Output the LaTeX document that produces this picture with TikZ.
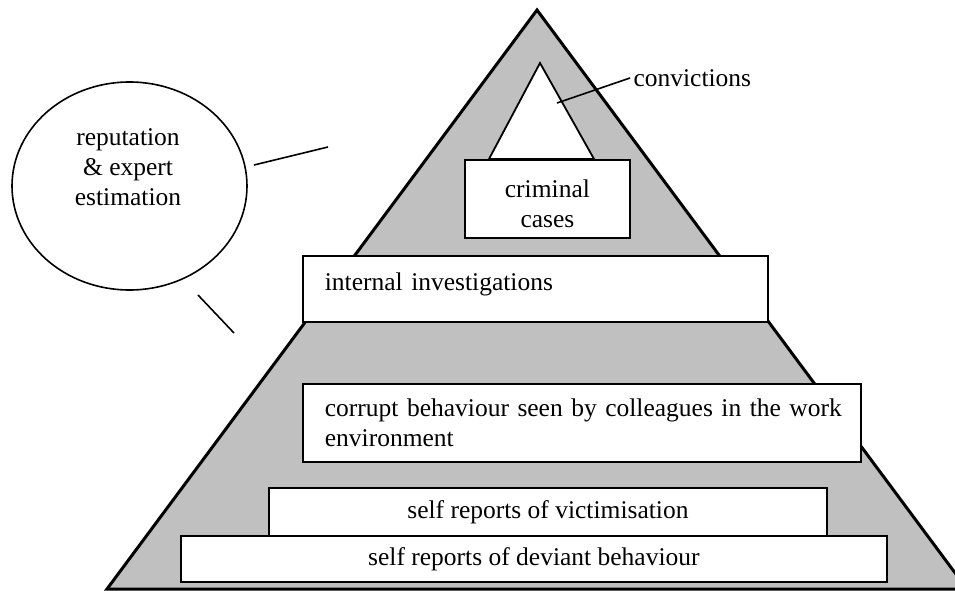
\documentclass[tikz,border=0pt]{standalone}
\usepackage{fontspec}
\setmainfont{Liberation Serif}
\usetikzlibrary{positioning, shapes.geometric}

\definecolor{pyrgray}{RGB}{192,192,192}
\tikzset{
	layer/.style={rectangle, draw, fill=white, line width=1.8pt, anchor=north west, inner sep=0pt},
	leftlayer/.style={layer, align=left, inner xsep=22pt},
	midlayer/.style={layer, align=center},
	pointer/.style={line width=1.6pt}
}

\begin{document}
\begin{tikzpicture}[x=1pt, y=-1pt, font=\fontsize{25.5}{30}\selectfont]
			\useasboundingbox (0,0) rectangle (955,591);
			\clip (0,0) rectangle (955,591);
			
			% pyramid
			\draw[fill=pyrgray, line width=3pt, line join=miter] (537,10) -- (107,589) -- (967,589) -- cycle;
			\draw[fill=white, line width=1.8pt] (540,63) -- (489,159) -- (594,159) -- cycle;
			
			\node[midlayer, minimum width=165pt, minimum height=78pt, text height=57pt] (crim) at (464,159) {\fontsize{25.5}{28}\selectfont criminal\\cases};
			\node[leftlayer, minimum width=465pt, minimum height=66pt, text width=421pt, text depth=14pt] (intinv) at (302,255) {internal investigations};
			\node[leftlayer, minimum width=558pt, minimum height=78pt, text width=514pt] (corrupt) at (302,383) {\fontsize{25.5}{31}\selectfont\mbox{corrupt behaviour seen by colleagues in the work}\\environment};
			\node[midlayer, minimum width=558pt, minimum height=48pt] (vict) at (268,487) {self reports of victimisation};
			\node[midlayer, minimum width=706pt, minimum height=46pt] (dev) at (180,535) {self reports of deviant behaviour};
			
			\node[anchor=west] (conv) at (630,78) {convictions};
			\coordinate (convtip) at (557,103);
			\draw[pointer] (conv.west) -- (convtip);
			
			% estimation bubble
			\node[ellipse, draw, line width=1.6pt, minimum width=235pt, minimum height=208pt] (rep) at (129.5,186) {};
			\node[align=center] (reptext) at (128,167) {reputation\\\& expert\\estimation};
			\coordinate (r1a) at (254,165);
			\coordinate (r1b) at (328,147);
			\coordinate (r2a) at (198,295);
			\coordinate (r2b) at (234,333);
			\draw[pointer] (r1a) -- (r1b);
			\draw[pointer] (r2a) -- (r2b);
		\end{tikzpicture}
\end{document}
